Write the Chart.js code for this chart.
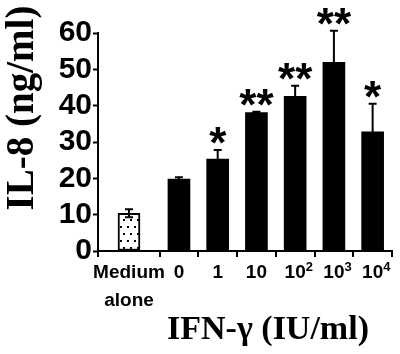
<!DOCTYPE html>
<html>
<head>
<meta charset="utf-8">
<script src="https://cdn.jsdelivr.net/npm/chart.js@4"></script>
<style>
  body { margin: 0; background: #fff; }
</style>
</head>
<body>
<canvas id="il8Chart" width="400" height="354"></canvas>
<script>
// IL-8 release (ng/ml) versus IFN-gamma dose
const categories = [['Medium', 'alone'], '0', '1', '10', '10', '10', '10'];
const exponents = ['', '', '', '', '2', '3', '4'];
const positions = [-1.29, 0, 1, 2, 3, 4, 5];
const boundaries = [-2.09, -0.5, 0.5, 1.5, 2.5, 3.5, 4.5, 5.5];
const il8Values = [10.4, 19.8, 25.3, 38.1, 42.6, 51.9, 32.8];
const il8Errors = [1.1, 0.5, 2.5, 0.2, 2.9, 8.7, 7.7];
const stars = ['', '', '*', '**', '**', '**', '*'];
const yTicks = [0, 10, 20, 30, 40, 50, 60];

const sans = '"Liberation Sans", Arial, Helvetica, sans-serif';
const serif = '"Liberation Serif", "Times New Roman", serif';

// dotted fill for the "medium alone" bar
function dotPattern(ctx) {
  const c = document.createElement('canvas');
  c.width = 7; c.height = 14;
  const p = c.getContext('2d');
  p.fillStyle = '#fff';
  p.fillRect(0, 0, 7, 14);
  p.fillStyle = '#000';
  p.fillRect(1, 2, 2, 2);
  p.fillRect(4, 9, 2, 2);
  return ctx.createPattern(c, 'repeat');
}

const canvas = document.getElementById('il8Chart');
const ctx = canvas.getContext('2d');

// error bars + significance stars
const errorBars = {
  id: 'errorBars',
  afterDatasetsDraw(chart) {
    const c = chart.ctx;
    const y = chart.scales.y;
    const meta = chart.getDatasetMeta(0);
    c.save();
    c.strokeStyle = '#000';
    c.lineWidth = 2;
    meta.data.forEach((bar, i) => {
      const hi = y.getPixelForValue(il8Values[i] + il8Errors[i]);
      const lo = y.getPixelForValue(il8Values[i] - il8Errors[i]);
      c.beginPath();
      c.moveTo(bar.x, lo);
      c.lineTo(bar.x, hi);
      c.moveTo(bar.x - 4, hi);
      c.lineTo(bar.x + 4, hi);
      c.moveTo(bar.x - 4, lo);
      c.lineTo(bar.x + 4, lo);
      c.stroke();
      if (stars[i]) {
        c.font = 'bold 44px ' + sans;
        c.fillStyle = '#000';
        c.textAlign = 'center';
        c.textBaseline = 'alphabetic';
        const m = c.measureText(stars[i]);
        const bottom = Math.min(hi, y.getPixelForValue(il8Values[i])) - 6;
        c.fillText(stars[i], bar.x, bottom - m.actualBoundingBoxDescent);
      }
    });
    c.restore();
  }
};

// x tick marks between groups, exponents of the dose labels, axis titles
const axisExtras = {
  id: 'axisExtras',
  afterDraw(chart) {
    const c = chart.ctx;
    const x = chart.scales.x;
    c.save();
    c.strokeStyle = '#000';
    c.lineWidth = 2;
    c.beginPath();
    boundaries.forEach(v => {
      const px = Math.round(x.getPixelForValue(v));
      c.moveTo(px, x.top);
      c.lineTo(px, x.top + 6);
    });
    c.stroke();

    c.fillStyle = '#000';
    c.textBaseline = 'alphabetic';
    c.font = 'bold 19px ' + sans;
    const baseW = c.measureText('10').width;
    c.font = 'bold 13px ' + sans;
    c.textAlign = 'left';
    exponents.forEach((e, i) => {
      if (e) c.fillText(e, x.getPixelForValue(positions[i]) + baseW / 2, x.top + 20);
    });

    c.textAlign = 'center';
    c.font = 'bold 34px ' + serif;
    c.fillText('IFN-γ (IU/ml)', 268, 339);
    c.translate(33, 108);
    c.rotate(-Math.PI / 2);
    c.font = 'bold 39px ' + serif;
    c.fillText('IL-8 (ng/ml)', 0, 0);
    c.restore();
  }
};

new Chart(ctx, {
  type: 'bar',
  data: {
    datasets: [{
      data: positions.map((x, i) => ({ x: x, y: il8Values[i] })),
      backgroundColor: il8Values.map((v, i) => i === 0 ? dotPattern(ctx) : '#000'),
      borderColor: '#000',
      borderWidth: il8Values.map((v, i) => i === 0 ? 2 : 0),
      borderSkipped: false,
      barThickness: 22
    }]
  },
  options: {
    responsive: false,
    animation: false,
    devicePixelRatio: 1,
    layout: { padding: { top: 33, right: 8, left: 0, bottom: 0 } },
    plugins: { legend: { display: false }, tooltip: { enabled: false } },
    scales: {
      x: {
        type: 'linear',
        offset: false,
        min: boundaries[0],
        max: boundaries[boundaries.length - 1],
        afterBuildTicks: scale => {
          scale.ticks = positions.map(v => ({ value: v }));
        },
        afterFit: scale => { scale.height = 103; },
        border: { display: true, color: '#000', width: 2 },
        grid: {
          offset: false,
          drawOnChartArea: false,
          drawTicks: true,
          tickLength: 6,
          tickColor: 'rgba(0,0,0,0)'
        },
        ticks: {
          autoSkip: false,
          maxRotation: 0,
          padding: 2,
          color: '#000',
          font: { family: sans, size: 19, weight: 'bold', lineHeight: 1.45 },
          callback: (value, index) => categories[index]
        }
      },
      y: {
        min: yTicks[0],
        max: yTicks[yTicks.length - 1],
        afterBuildTicks: scale => { scale.ticks = yTicks.map(v => ({ value: v })); },
        afterFit: scale => { scale.width = 98; },
        border: { display: true, color: '#000', width: 2 },
        grid: { drawOnChartArea: false, tickLength: 5, tickWidth: 2, tickColor: '#000' },
        ticks: {
          autoSkip: false,
          padding: 1,
          color: '#000',
          font: { family: sans, size: 30, weight: 'bold', lineHeight: 1.2 }
        }
      }
    }
  },
  plugins: [errorBars, axisExtras]
});
</script>
</body>
</html>
